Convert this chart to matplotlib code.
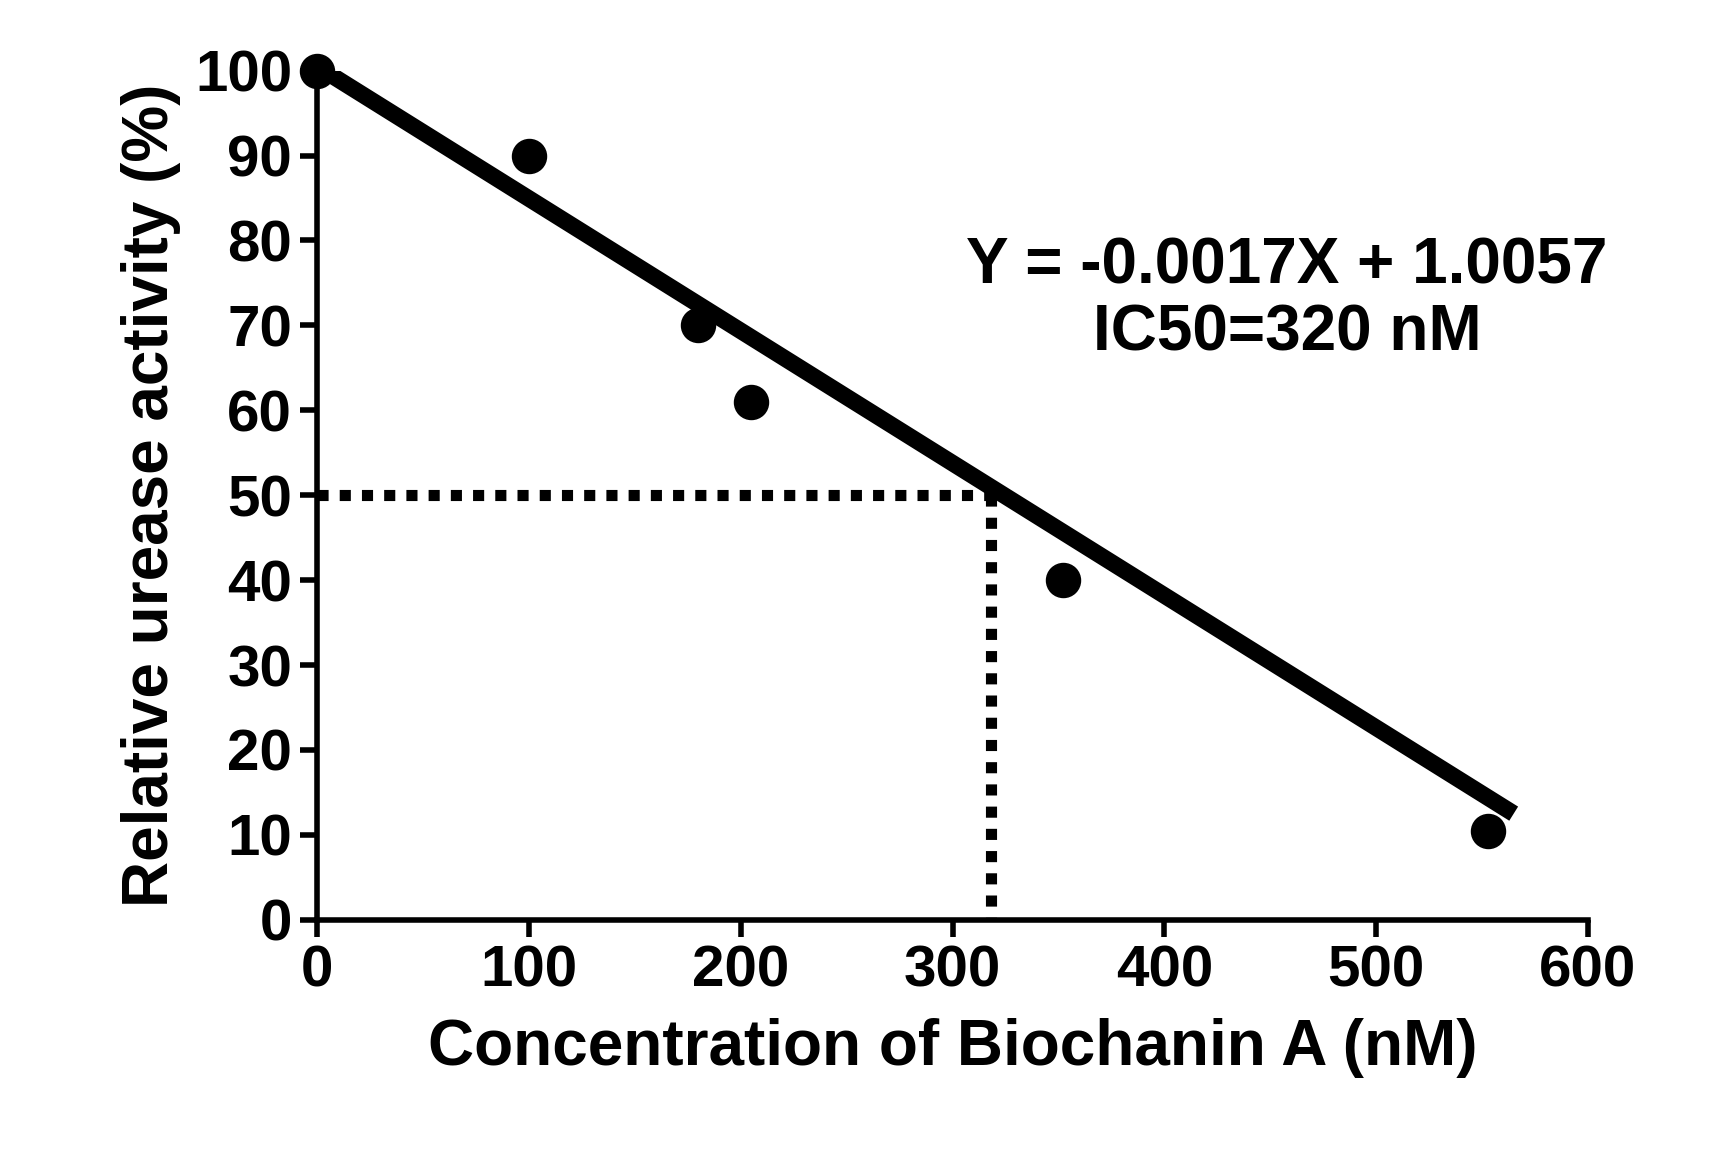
import matplotlib
matplotlib.use("Agg")
import matplotlib.pyplot as plt

conc = [0, 100, 180, 205, 352, 553]
activity = [100, 90, 70, 61, 40, 10.5]
fit_x = [0, 565]
fit_y = [100.5, 12.5]
ic50 = 318
xticks = [0, 100, 200, 300, 400, 500, 600]
yticks = list(range(0, 101, 10))

plt.rcParams['font.family'] = ['Liberation Sans', 'DejaVu Sans']
plt.rcParams['font.weight'] = 'bold'
fig = plt.figure(figsize=(17.24, 11.57), dpi=100)
ax = fig.add_axes([0.184, 0.205, 0.737, 0.734])
ax.plot(fit_x, fit_y, color='black', lw=12, solid_capstyle='butt', zorder=3)
ax.scatter(conc, activity, s=600, color='black', zorder=4, clip_on=False)
ax.plot([0, ic50], [50, 50], color='black', lw=8, linestyle=(0, (1, 1)), zorder=2)
ax.plot([ic50, ic50], [50, 0], color='black', lw=8, linestyle=(0, (1, 1)), zorder=2)
ax.set_xlim(0, 600)
ax.set_ylim(0, 100)
ax.set_xticks(xticks)
ax.set_yticks(yticks)
ax.tick_params(labelsize=42, width=4, length=12, pad=6)
for s in ['top', 'right']:
    ax.spines[s].set_visible(False)
for s in ['left', 'bottom']:
    ax.spines[s].set_linewidth(4)
ax.set_xlabel('Concentration of Biochanin A (nM)', fontsize=46, fontweight='bold', labelpad=14)
ax.set_ylabel('Relative urease activity (%)', fontsize=46, fontweight='bold', labelpad=10)
ax.text(458, 73, 'Y = -0.0017X + 1.0057\nIC50=320 nM', fontsize=46, fontweight='bold',
        ha='center', va='center', linespacing=1.15)
fig.savefig('out.png', dpi=100)
